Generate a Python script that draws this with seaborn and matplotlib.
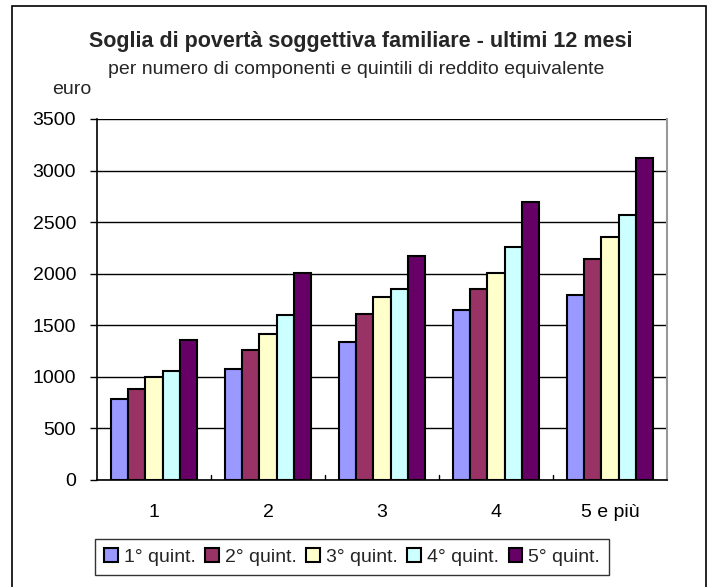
import pandas as pd
import matplotlib
matplotlib.use("Agg")
import matplotlib.pyplot as plt
import seaborn as sns
from matplotlib.patches import Rectangle

# Data
componenti = ["1", "2", "3", "4", "5 e più"]
quintili = ["1° quint.", "2° quint.", "3° quint.", "4° quint.", "5° quint."]
q1 = [787, 1080, 1335, 1647, 1789]
q2 = [887, 1257, 1605, 1847, 2144]
q3 = [1003, 1416, 1770, 2002, 2357]
q4 = [1061, 1596, 1847, 2256, 2572]
q5 = [1354, 2002, 2176, 2691, 3121]
colori = ["#9999FF", "#993366", "#FFFFCC", "#CCFFFF", "#660066"]

rows = []
for q, vals in zip(quintili, [q1, q2, q3, q4, q5]):
    for c, v in zip(componenti, vals):
        rows.append({"componenti": c, "quintile": q, "euro": v})
df = pd.DataFrame(rows)

sns.set_style("white")
plt.rcParams["font.family"] = ["Liberation Sans", "DejaVu Sans"]

fig = plt.figure(figsize=(7.1, 5.87), dpi=100)
ax = fig.add_axes([0.1366, 0.1823, 0.8028, 0.615])

sns.barplot(data=df, x="componenti", y="euro", hue="quintile",
            order=componenti, hue_order=quintili, palette=colori, saturation=1,
            width=0.755, edgecolor="black", linewidth=1.5, ax=ax, legend=True)

ax.set_ylim(0, 3500)
ax.set_yticks(range(0, 3501, 500))
ax.set_xlim(-0.5, 4.5)
ax.yaxis.grid(True, color="black", linewidth=1)
ax.set_axisbelow(True)
ax.set_xlabel("")
ax.set_ylabel("")
ax.tick_params(axis="both", labelsize=14, colors="black")
ax.tick_params(axis="x", length=0, pad=17)
ax.tick_params(axis="y", length=5, width=1, direction="out", left=True, pad=10)
# ticks between the groups
for xb in [0.5, 1.5, 2.5, 3.5]:
    ax.plot([xb, xb], [0, 50], color="black", linewidth=1)

for s in ["left", "bottom"]:
    ax.spines[s].set_color("black")
    ax.spines[s].set_linewidth(1.2)
ax.spines["top"].set_visible(False)
ax.spines["right"].set_color("#999999")
ax.spines["right"].set_linewidth(1.5)

handles, labels = ax.get_legend_handles_labels()
ax.get_legend().remove()
leg = fig.legend(handles, labels, loc="center", bbox_to_anchor=(0.4958, 0.0511),
                 ncol=5, fontsize=14, frameon=True, fancybox=False,
                 handlelength=0.7, handleheight=0.7, handletextpad=0.3,
                 columnspacing=0.5, borderpad=0.45, borderaxespad=0)
leg.get_frame().set_edgecolor("black")
leg.get_frame().set_linewidth(1)

fig.text(0.508, 0.929, "Soglia di povertà soggettiva familiare - ultimi 12 mesi",
         ha="center", va="center", fontsize=15.5, fontweight="bold")
fig.text(0.501, 0.881, "per numero di componenti e quintili di reddito equivalente",
         ha="center", va="center", fontsize=14)
fig.text(0.1014, 0.8467, "euro", ha="center", va="center", fontsize=14)

fig.patches.append(Rectangle((12 / 710, -0.01), 694 / 710, 1 - 6 / 587 + 0.01,
                             transform=fig.transFigure, fill=False,
                             edgecolor="black", linewidth=1.2))

plt.savefig("out.png", dpi=100)
